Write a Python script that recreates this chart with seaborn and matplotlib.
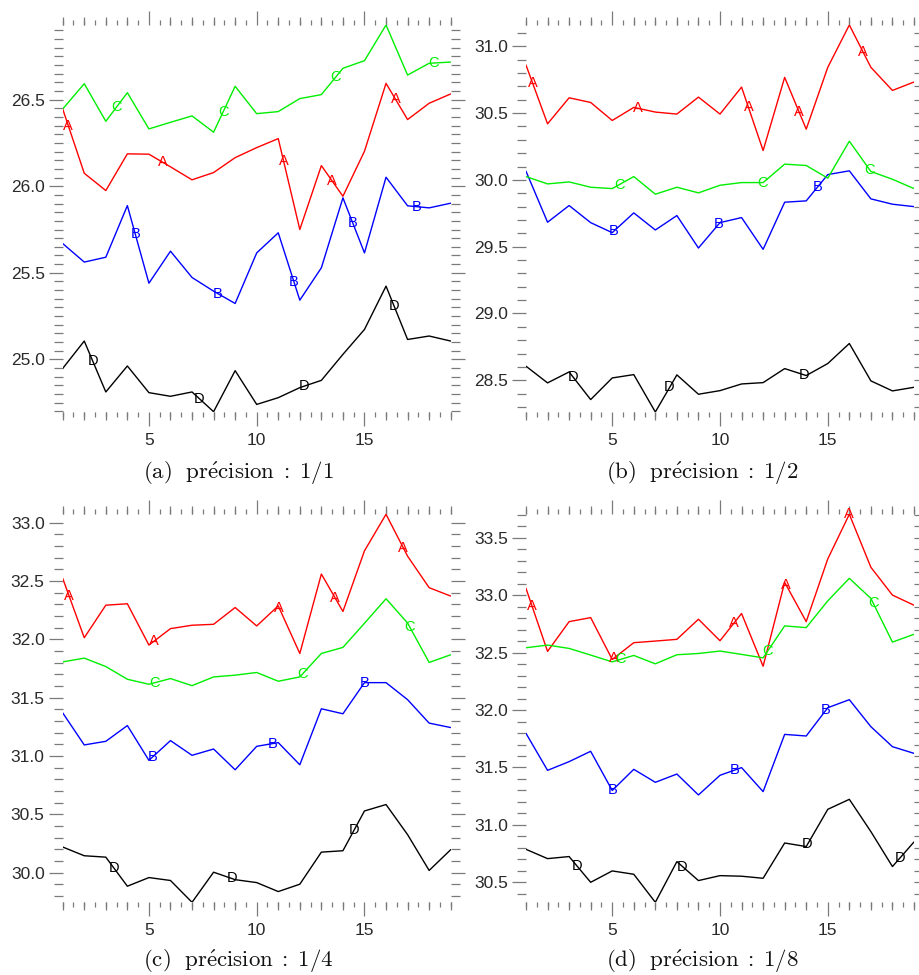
import numpy as np
import pandas as pd
import matplotlib
matplotlib.use("Agg")
import matplotlib.pyplot as plt
from matplotlib.ticker import MultipleLocator, FormatStrFormatter
import seaborn as sns

# ---------------- data ----------------
x = list(range(1, 20))

a_A = [26.446, 26.075, 25.975, 26.187, 26.185, 26.112, 26.037, 26.079, 26.165, 26.223,
       26.275, 25.750, 26.119, 25.942, 26.202, 26.594, 26.385, 26.479, 26.533]
a_B = [25.669, 25.562, 25.590, 25.888, 25.440, 25.625, 25.473, 25.394, 25.323, 25.615,
       25.731, 25.342, 25.529, 25.933, 25.615, 26.052, 25.887, 25.875, 25.902]
a_C = [26.446, 26.592, 26.375, 26.540, 26.331, 26.369, 26.406, 26.312, 26.577, 26.419,
       26.431, 26.506, 26.529, 26.681, 26.725, 26.931, 26.642, 26.710, 26.717]
a_D = [24.948, 25.106, 24.812, 24.962, 24.808, 24.787, 24.812, 24.698, 24.935, 24.740,
       24.779, 24.837, 24.879, 25.029, 25.173, 25.423, 25.115, 25.135, 25.106]

b_A = [30.860, 30.420, 30.615, 30.580, 30.445, 30.543, 30.508, 30.493, 30.620, 30.493,
       30.695, 30.220, 30.768, 30.380, 30.843, 31.160, 30.843, 30.670, 30.733]
b_B = [30.065, 29.683, 29.808, 29.680, 29.605, 29.753, 29.625, 29.733, 29.490, 29.680,
       29.718, 29.480, 29.833, 29.843, 30.040, 30.068, 29.858, 29.818, 29.800]
b_C = [30.025, 29.970, 29.985, 29.945, 29.935, 30.025, 29.893, 29.945, 29.903, 29.960,
       29.980, 29.980, 30.118, 30.108, 30.013, 30.290, 30.063, 30.005, 29.935]
b_D = [28.605, 28.480, 28.562, 28.355, 28.517, 28.542, 28.262, 28.540, 28.395, 28.422,
       28.472, 28.482, 28.587, 28.535, 28.625, 28.775, 28.495, 28.420, 28.447]

c_A = [32.523, 32.014, 32.293, 32.305, 31.951, 32.092, 32.121, 32.129, 32.273, 32.115,
       32.287, 31.879, 32.560, 32.239, 32.759, 33.072, 32.713, 32.443, 32.371]
c_B = [31.370, 31.095, 31.126, 31.261, 30.963, 31.132, 31.006, 31.060, 30.882, 31.083,
       31.115, 30.925, 31.405, 31.362, 31.629, 31.629, 31.483, 31.282, 31.244]
c_C = [31.807, 31.839, 31.767, 31.658, 31.615, 31.664, 31.603, 31.678, 31.693, 31.716,
       31.641, 31.678, 31.879, 31.931, 32.138, 32.348, 32.140, 31.802, 31.868]
c_D = [30.220, 30.145, 30.133, 29.884, 29.958, 29.933, 29.746, 30.004, 29.940, 29.915,
       29.838, 29.901, 30.176, 30.188, 30.529, 30.584, 30.326, 30.019, 30.197]

d_A = [33.058, 32.510, 32.769, 32.804, 32.440, 32.586, 32.600, 32.615, 32.790, 32.603,
       32.840, 32.381, 33.111, 32.769, 33.315, 33.703, 33.242, 33.000, 32.912]
d_B = [31.797, 31.475, 31.551, 31.641, 31.300, 31.484, 31.371, 31.443, 31.261, 31.432,
       31.499, 31.290, 31.788, 31.774, 32.020, 32.090, 31.855, 31.681, 31.623]
d_C = [32.542, 32.565, 32.536, 32.478, 32.419, 32.475, 32.402, 32.481, 32.492, 32.513,
       32.484, 32.454, 32.732, 32.717, 32.950, 33.146, 32.971, 32.591, 32.659]
d_D = [30.788, 30.707, 30.725, 30.501, 30.600, 30.571, 30.327, 30.681, 30.516, 30.559,
       30.554, 30.536, 30.843, 30.812, 31.136, 31.223, 30.942, 30.638, 30.852]

# positions (x) of the letter labels written on each curve
a_lab = {"A": [1.26, 5.64, 11.25, 13.5, 16.44], "B": [4.37, 8.19, 11.73, 14.45, 17.42],
         "C": [3.49, 8.45, 13.67, 18.19], "D": [2.39, 7.34, 12.21, 16.38]}
b_lab = {"A": [1.31, 6.17, 11.32, 13.66, 16.63], "B": [5.06, 9.93, 14.51],
         "C": [5.33, 11.99, 16.94], "D": [3.20, 7.66, 13.88]}
c_lab = {"A": [1.29, 5.23, 11.05, 13.63, 16.80], "B": [5.16, 10.74, 15.0],
         "C": [5.25, 12.13, 17.10], "D": [3.36, 8.84, 14.52]}
d_lab = {"A": [1.28, 5.06, 10.66, 13.06, 16.0], "B": [5.01, 10.66, 14.92],
         "C": [5.37, 12.22, 17.1], "D": [3.38, 8.26, 14.06, 18.34]}

captions = ["(a)", "(b)", "(c)", "(d)"]
precisions = ["1/1", "1/2", "1/4", "1/8"]
series_names = ["A", "B", "C", "D"]
colors = {"A": "#ff0000", "B": "#0000ff", "C": "#00ee00", "D": "#000000"}
minor_steps = [0.05, 0.1, 0.1, 0.1]

panels = [
    ({"A": a_A, "B": a_B, "C": a_C, "D": a_D}, a_lab),
    ({"A": b_A, "B": b_B, "C": b_C, "D": b_D}, b_lab),
    ({"A": c_A, "B": c_B, "C": c_C, "D": c_D}, c_lab),
    ({"A": d_A, "B": d_B, "C": d_C, "D": d_D}, d_lab),
]

# ---------------- style ----------------
sns.set_style("white")
plt.rcParams["font.family"] = ["Liberation Sans", "DejaVu Sans"]
plt.rcParams["mathtext.fontset"] = "cm"

W, H = 919, 975
fig = plt.figure(figsize=(W / 100, H / 100), dpi=100)

tick_color = "#7a7a7a"
label_color = "#2a2a2a"

# axes boxes in pixels: left, top, right, bottom
boxes = [(62.7, 25.0, 450.7, 411.7), (526.0, 25.0, 914.0, 412.0),
         (62.7, 514.3, 450.7, 902.3), (526.0, 514.3, 914.0, 902.3)]
cap_y = [473.0, 473.0, 961.0, 961.0]

for i, ((data, labs), box) in enumerate(zip(panels, boxes)):
    l, t, r, b = box
    ax = fig.add_axes([l / W, 1 - b / H, (r - l) / W, (b - t) / H])
    df = pd.DataFrame({
        "x": np.tile(x, len(series_names)),
        "y": np.concatenate([data[s] for s in series_names]),
        "serie": np.repeat(series_names, len(x)),
    })
    sns.lineplot(data=df, x="x", y="y", hue="serie", palette=colors, ax=ax,
                 linewidth=1.0, legend=False, estimator=None, sort=False)
    for s in series_names:
        for lx in labs[s]:
            ly = np.interp(lx, x, data[s])
            ax.text(lx, ly, s, color=colors[s], fontsize=10.5, ha="center", va="center",
                    family="Liberation Sans")

    allv = np.concatenate([data[s] for s in series_names])
    ax.set_xlim(1, 19)
    ax.set_ylim(allv.min(), allv.max())
    ax.set_xlabel("")
    ax.set_ylabel("")
    for sp in ax.spines.values():
        sp.set_visible(False)

    ax.xaxis.set_major_locator(MultipleLocator(5))
    ax.xaxis.set_minor_locator(MultipleLocator(0.5))
    ax.yaxis.set_major_locator(MultipleLocator(0.5))
    ax.yaxis.set_minor_locator(MultipleLocator(minor_steps[i]))
    ax.yaxis.set_major_formatter(FormatStrFormatter("%.1f"))

    ax.tick_params(axis="both", which="both", direction="out", color=tick_color,
                   width=0.9, labelcolor=label_color, labelsize=12.5)
    ax.tick_params(axis="x", which="both", top=True, bottom=True)
    ax.tick_params(axis="y", which="both", left=True, right=True)
    ax.tick_params(axis="x", which="major", length=10, pad=5)
    ax.tick_params(axis="x", which="minor", length=3.5)
    ax.tick_params(axis="y", which="major", length=10, pad=3)
    ax.tick_params(axis="y", which="minor", length=6.5)

    # integer ticks (intermediate length) on top and bottom
    for loc in ("top", "bottom"):
        sec = ax.secondary_xaxis(loc)
        sec.set_xticks([k for k in x if k % 5 != 0])
        sec.set_xticklabels([])
        sec.tick_params(axis="x", which="major", direction="out", length=6,
                        width=0.9, color=tick_color)
        sec.xaxis.set_minor_locator(plt.NullLocator())
        for sp in sec.spines.values():
            sp.set_visible(False)

    cx = (l + r) / 2 - 18
    cap = (r"$\mathrm{" + captions[i] + r"\ \ pr\acute{e}cision\;:\;"
           + precisions[i] + "}$")
    fig.text(cx / W, 1 - cap_y[i] / H, cap, ha="center", va="center", fontsize=16.5,
             color="#111111")

fig.savefig("out.png", dpi=100)
